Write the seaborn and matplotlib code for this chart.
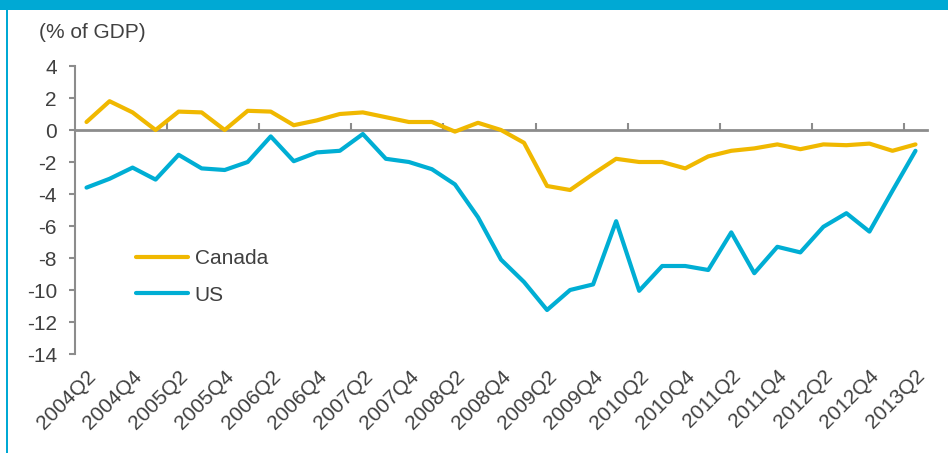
import numpy as np
import pandas as pd
import matplotlib
matplotlib.use('Agg')
import matplotlib.pyplot as plt
from matplotlib.patches import Rectangle
import seaborn as sns

# 季度标签 2004Q2 - 2013Q2
quarters = ['2004Q2', '2004Q3', '2004Q4', '2005Q1', '2005Q2', '2005Q3', '2005Q4',
            '2006Q1', '2006Q2', '2006Q3', '2006Q4', '2007Q1', '2007Q2', '2007Q3',
            '2007Q4', '2008Q1', '2008Q2', '2008Q3', '2008Q4', '2009Q1', '2009Q2',
            '2009Q3', '2009Q4', '2010Q1', '2010Q2', '2010Q3', '2010Q4', '2011Q1',
            '2011Q2', '2011Q3', '2011Q4', '2012Q1', '2012Q2', '2012Q3', '2012Q4',
            '2013Q1', '2013Q2']

canada = [0.5, 1.8, 1.1, 0.0, 1.15, 1.1, 0.0, 1.2, 1.15, 0.3, 0.6, 1.0, 1.1,
          0.8, 0.5, 0.5, -0.1, 0.45, 0.0, -0.8, -3.5, -3.75, -2.75, -1.8,
          -2.0, -2.0, -2.4, -1.65, -1.3, -1.15, -0.9, -1.2, -0.9, -0.95,
          -0.85, -1.3, -0.9]

us = [-3.6, -3.05, -2.35, -3.1, -1.55, -2.4, -2.5, -2.0, -0.4, -1.95, -1.4,
      -1.3, -0.25, -1.8, -2.0, -2.45, -3.4, -5.45, -8.1, -9.5, -11.25, -10.0,
      -9.65, -5.7, -10.05, -8.5, -8.5, -8.75, -6.4, -8.95, -7.3, -7.65,
      -6.05, -5.2, -6.35, -3.8, -1.3]

series_names = ['Canada', 'US']
colors = {'Canada': '#F0B800', 'US': '#00AED4'}
text_color = '#404040'
axis_color = '#8C8C8C'

sns.set_theme(style='white')
plt.rcParams['font.family'] = ['Liberation Sans', 'DejaVu Sans']

# 长表格式
df = pd.DataFrame({
    'idx': list(range(len(quarters))) * 2,
    'value': canada + us,
    'country': [series_names[0]] * len(canada) + [series_names[1]] * len(us),
})

fig = plt.figure(figsize=(9.48, 4.53), dpi=100)
W, H = 948, 453
ax = fig.add_axes([75 / W, 1 - 354 / H, (927 - 75) / W, (354 - 66) / H])

sns.lineplot(data=df, x='idx', y='value', hue='country', palette=colors,
             linewidth=3, ax=ax, legend=True)

ax.set_xlim(-0.5, len(quarters) - 0.5)
ax.set_ylim(-14, 4)
ax.set_yticks(np.arange(-14, 5, 2))
ax.set_yticklabels([str(v) for v in range(-14, 5, 2)])
ax.set_xticks(range(0, len(quarters), 2))
ax.set_xticklabels(quarters[::2], rotation=45, ha='right', rotation_mode='anchor')
ax.set_xlabel('')
ax.set_ylabel('')

for s in ['top', 'right', 'bottom']:
    ax.spines[s].set_visible(False)
ax.spines['left'].set_color(axis_color)
ax.spines['left'].set_linewidth(1.5)

ax.tick_params(axis='y', direction='out', length=4, width=1.5, color=axis_color,
               labelsize=15, labelcolor=text_color, pad=9, left=True)
ax.tick_params(axis='x', length=0, labelsize=15, labelcolor=text_color, pad=9)

# 零线作为横轴 (Excel 风格)
zero_frac = (0 - (-14)) / (4 - (-14))
sec = ax.secondary_xaxis(zero_frac)
sec.set_xticks(np.arange(3.5, len(quarters), 4))
sec.set_xticklabels([])
for sp in sec.spines.values():
    sp.set_color(axis_color)
    sp.set_linewidth(2)
sec.tick_params(axis='x', direction='out', length=5, width=1.5, color=axis_color)

leg = ax.legend(loc='center left', bbox_to_anchor=(0.072, 0.268), frameon=False,
                fontsize=15, handlelength=2.5, handletextpad=0.3, labelspacing=0.85,
                borderpad=0, borderaxespad=0)
for t in leg.get_texts():
    t.set_color(text_color)

fig.text(39 / W, 1 - 33 / H, '(% of GDP)', fontsize=15, color=text_color,
         ha='left', va='center')

# 顶部色带与左边框
fig.patches.append(Rectangle((0, 1 - 10 / H), 1, 10 / H, transform=fig.transFigure,
                             facecolor='#00A9D4', edgecolor='none'))
fig.patches.append(Rectangle((6 / W, 0), 1.5 / W, 1 - 10 / H, transform=fig.transFigure,
                             facecolor='#00A9D4', edgecolor='none'))

fig.savefig('out.png', dpi=100)
